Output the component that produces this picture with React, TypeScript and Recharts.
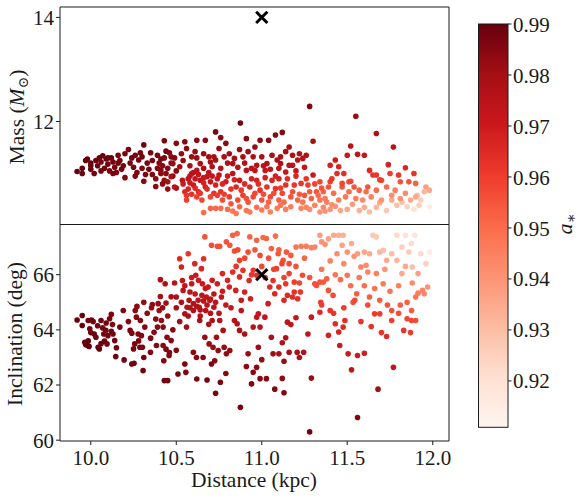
import React from 'react';
import { ScatterChart, Scatter, XAxis, YAxis, ReferenceArea } from 'recharts';

// [distance (kpc), mass (Msun), spin a*]
const massSamples: number[][] = [
  [9.92, 11.04, 0.99], [9.95, 11.0, 0.99], [9.95, 11.1, 0.99], [9.97, 11.25, 0.99], [9.98, 11.28, 0.99],
  [10.0, 11.2, 0.99], [10.0, 11.08, 0.988], [10.02, 11.0, 0.988], [10.04, 11.15, 0.99], [10.05, 11.3, 0.99],
  [10.06, 11.22, 0.988], [10.07, 11.34, 0.99], [10.08, 11.1, 0.988], [10.09, 11.28, 0.99], [10.1, 11.18, 0.988],
  [10.11, 11.05, 0.987], [10.12, 11.3, 0.99], [10.13, 11.22, 0.988], [10.14, 11.12, 0.987], [10.15, 11.02, 0.987],
  [10.16, 11.35, 0.988], [10.17, 11.25, 0.988], [10.18, 11.08, 0.987], [10.2, 10.92, 0.986], [10.2, 11.38, 0.987],
  [10.22, 11.46, 0.988], [10.24, 11.3, 0.988], [10.25, 11.12, 0.987], [10.26, 10.95, 0.986], [10.27, 11.02, 0.987],
  [10.28, 11.26, 0.988], [10.29, 11.4, 0.988], [10.3, 11.32, 0.987], [10.31, 11.55, 0.988], [10.31, 10.85, 0.985],
  [10.33, 11.2, 0.987], [10.35, 11.4, 0.988], [10.36, 10.98, 0.986], [10.38, 10.9, 0.985], [10.39, 11.1, 0.986],
  [10.4, 11.2, 0.986], [10.41, 11.0, 0.985], [10.42, 10.8, 0.984], [10.43, 11.63, 0.987], [10.43, 11.3, 0.986],
  [10.44, 11.43, 0.987], [10.45, 11.1, 0.985], [10.45, 10.7, 0.982], [10.46, 11.4, 0.986], [10.47, 11.2, 0.985],
  [10.48, 10.95, 0.984], [10.49, 11.3, 0.985], [10.5, 11.05, 0.984], [10.5, 10.72, 0.98], [10.38, 10.75, 0.984],
  [10.41, 11.28, 0.987], [10.34, 11.08, 0.987], [10.41, 11.06, 0.984], [10.43, 10.87, 0.982], [10.45, 10.84, 0.98],
  [10.47, 10.94, 0.98], [10.48, 11.19, 0.983], [10.49, 10.74, 0.976],
  [10.0, 11.15, 0.989], [10.03, 11.25, 0.989], [10.06, 11.05, 0.988], [10.1, 11.3, 0.989], [10.13, 11.0, 0.987],
  [10.16, 11.2, 0.988], [10.19, 11.15, 0.987], [10.23, 11.2, 0.987], [10.26, 11.35, 0.988], [10.3, 11.1, 0.986],
  [10.32, 10.98, 0.986], [10.36, 11.25, 0.987], [10.39, 11.35, 0.987], [10.42, 11.15, 0.985], [10.44, 11.0, 0.984],
  [10.47, 11.32, 0.985],
  [10.5, 11.58, 0.985], [10.55, 11.61, 0.985], [10.62, 11.64, 0.984], [10.67, 11.64, 0.984], [10.73, 11.8, 0.986],
  [10.76, 11.69, 0.985], [10.79, 11.58, 0.984], [10.72, 11.32, 0.98], [10.84, 11.29, 0.98], [10.87, 11.46, 0.982],
  [10.875, 11.97, 0.988], [10.91, 11.67, 0.985], [10.96, 11.51, 0.983], [10.99, 11.64, 0.984], [11.04, 11.64, 0.984],
  [11.08, 11.74, 0.985], [11.12, 11.79, 0.985], [11.11, 11.19, 0.978], [11.14, 11.03, 0.972], [11.16, 11.51, 0.98],
  [11.18, 11.35, 0.978], [11.22, 11.38, 0.978], [11.26, 11.35, 0.977], [11.28, 12.29, 0.986], [11.3, 11.62, 0.98],
  [11.3, 10.97, 0.97],
  [10.53, 11.38, 0.983], [10.56, 11.48, 0.984], [10.59, 11.32, 0.982], [10.61, 11.42, 0.983], [10.64, 11.19, 0.98],
  [10.66, 11.38, 0.982], [10.69, 11.32, 0.981], [10.73, 11.26, 0.98], [10.75, 11.48, 0.983], [10.78, 11.32, 0.98],
  [10.81, 11.38, 0.981], [10.83, 11.19, 0.978], [10.89, 11.32, 0.98], [10.92, 11.42, 0.981], [10.95, 11.32, 0.979],
  [10.97, 11.16, 0.977], [11.0, 11.32, 0.979], [11.03, 11.19, 0.977], [11.06, 11.35, 0.979], [11.09, 11.26, 0.978],
  [11.11, 11.32, 0.978], [11.14, 11.42, 0.979], [11.18, 11.16, 0.975], [11.21, 11.26, 0.976], [11.24, 11.29, 0.976],
  [10.54, 11.25, 0.982], [10.58, 11.15, 0.98], [10.62, 11.3, 0.982], [10.66, 11.1, 0.978], [10.7, 11.22, 0.98],
  [10.76, 11.1, 0.977], [10.8, 11.2, 0.978], [10.86, 11.12, 0.976], [10.9, 11.2, 0.977], [10.94, 11.1, 0.975],
  [11.01, 11.15, 0.975], [11.05, 11.08, 0.974], [11.1, 11.1, 0.974], [11.2, 11.05, 0.972], [11.25, 11.12, 0.972],
  [10.52, 11.13, 0.98], [10.536, 10.87, 0.975], [10.55, 10.65, 0.965], [10.56, 10.49, 0.96], [10.57, 10.9, 0.975],
  [10.59, 11.0, 0.975], [10.6, 10.78, 0.97], [10.62, 11.06, 0.975], [10.63, 10.65, 0.965], [10.64, 10.87, 0.972],
  [10.65, 10.49, 0.958], [10.67, 10.74, 0.968], [10.68, 10.94, 0.974], [10.7, 10.84, 0.972], [10.71, 11.13, 0.978],
  [10.72, 10.62, 0.962], [10.73, 10.78, 0.968], [10.75, 10.97, 0.974], [10.76, 10.65, 0.963], [10.77, 10.49, 0.957],
  [10.79, 10.84, 0.97], [10.81, 10.55, 0.96], [10.82, 10.42, 0.955], [10.83, 11.0, 0.975], [10.85, 10.74, 0.966],
  [10.86, 10.49, 0.958], [10.87, 10.87, 0.97], [10.89, 10.58, 0.96], [10.91, 11.06, 0.975], [10.92, 10.45, 0.955],
  [10.93, 10.74, 0.965], [10.95, 10.55, 0.958], [10.96, 11.06, 0.975], [10.97, 10.87, 0.968], [10.99, 10.68, 0.962],
  [11.0, 10.49, 0.955], [11.02, 11.06, 0.972], [11.03, 10.74, 0.963], [11.05, 10.55, 0.957], [11.06, 10.87, 0.967],
  [11.08, 10.71, 0.962], [11.1, 10.49, 0.953], [11.1, 10.9, 0.968], [11.12, 10.62, 0.958], [11.14, 10.78, 0.963],
  [11.16, 11.16, 0.975], [11.17, 10.55, 0.955], [11.19, 10.78, 0.962], [11.21, 10.49, 0.952], [11.23, 10.81, 0.962],
  [11.25, 10.58, 0.955], [11.27, 10.78, 0.96], [11.29, 10.52, 0.952], [11.32, 10.65, 0.955], [11.34, 10.49, 0.948],
  [10.58, 10.95, 0.974], [10.6, 11.02, 0.975], [10.61, 10.9, 0.972], [10.63, 10.98, 0.973], [10.66, 10.92, 0.972],
  [10.69, 11.02, 0.974], [10.57, 10.7, 0.967], [10.59, 10.6, 0.963], [10.62, 10.55, 0.96], [10.68, 10.7, 0.965],
  [10.54, 10.8, 0.97], [10.74, 10.9, 0.971],
  [10.56, 10.58, 0.962], [10.58, 10.82, 0.97], [10.61, 10.72, 0.966], [10.64, 10.62, 0.962], [10.66, 10.82, 0.968],
  [10.7, 10.55, 0.958], [10.71, 10.95, 0.972], [10.74, 10.58, 0.96], [10.77, 10.8, 0.966], [10.78, 10.6, 0.96],
  [10.8, 10.95, 0.97], [10.82, 10.7, 0.963], [10.84, 10.88, 0.968], [10.88, 10.68, 0.961], [10.9, 10.8, 0.965],
  [10.91, 10.52, 0.956], [10.94, 10.9, 0.968], [10.96, 10.62, 0.958], [10.98, 10.8, 0.964], [11.01, 10.6, 0.957],
  [11.02, 10.92, 0.968], [11.04, 10.45, 0.952], [11.07, 10.62, 0.957], [11.08, 10.95, 0.968], [11.11, 10.72, 0.96],
  [11.13, 10.45, 0.95], [11.15, 10.9, 0.965], [11.18, 10.65, 0.956], [11.2, 10.95, 0.966], [11.22, 10.6, 0.954],
  [11.24, 10.45, 0.948], [11.26, 10.9, 0.962], [11.28, 10.65, 0.954], [11.31, 10.8, 0.958], [11.33, 10.58, 0.95],
  [10.66, 10.25, 0.95], [10.7, 10.33, 0.952], [10.73, 10.33, 0.951], [10.76, 10.33, 0.95], [10.8, 10.31, 0.95],
  [10.83, 10.28, 0.948], [10.85, 10.23, 0.947], [10.87, 10.36, 0.951], [10.91, 10.29, 0.948], [10.93, 10.26, 0.947],
  [10.97, 10.35, 0.949], [11.0, 10.3, 0.947], [11.03, 10.36, 0.948], [11.05, 10.26, 0.945], [11.09, 10.33, 0.946],
  [11.11, 10.39, 0.948], [11.14, 10.31, 0.945], [11.17, 10.36, 0.946], [11.23, 10.33, 0.944], [11.26, 10.35, 0.944],
  [11.28, 10.31, 0.942], [11.31, 10.39, 0.944], [11.34, 10.26, 0.94], [11.37, 10.28, 0.94], [11.4, 10.31, 0.939],
  [11.43, 10.37, 0.94], [11.46, 10.29, 0.936], [11.5, 10.31, 0.936], [11.53, 10.41, 0.938], [11.57, 10.29, 0.933],
  [11.6, 10.35, 0.934], [11.63, 10.26, 0.93], [11.67, 10.35, 0.932], [11.69, 10.44, 0.935], [11.73, 10.29, 0.927],
  [11.76, 10.49, 0.935], [11.79, 10.39, 0.93], [11.82, 10.45, 0.93], [11.85, 10.36, 0.925], [11.89, 10.31, 0.92],
  [11.91, 10.58, 0.93], [11.93, 10.49, 0.925], [11.96, 10.74, 0.938], [11.98, 10.68, 0.935], [11.98, 10.36, 0.915],
  [11.95, 10.65, 0.932],
  [11.86, 10.84, 0.955], [11.89, 11.0, 0.963], [11.84, 11.11, 0.966], [11.81, 10.84, 0.955], [11.8, 10.97, 0.962],
  [11.77, 11.51, 0.975], [11.74, 11.17, 0.968], [11.7, 10.87, 0.958], [11.67, 11.77, 0.978], [11.67, 10.97, 0.962],
  [11.63, 11.06, 0.965], [11.61, 10.65, 0.95], [11.6, 11.35, 0.972], [11.56, 11.37, 0.973], [11.55, 12.1, 0.982],
  [11.52, 11.53, 0.975], [11.51, 10.84, 0.957], [11.5, 11.35, 0.972], [11.48, 11.0, 0.964], [11.45, 11.13, 0.967],
  [11.43, 11.26, 0.97], [11.4, 11.16, 0.968], [11.39, 10.74, 0.955], [11.36, 10.65, 0.952], [11.34, 10.84, 0.958],
  [11.37, 10.52, 0.947], [11.4, 10.84, 0.96], [11.42, 10.62, 0.95], [11.45, 10.49, 0.945], [11.47, 10.74, 0.955],
  [11.49, 10.55, 0.947], [11.51, 10.65, 0.95], [11.55, 10.52, 0.945], [11.57, 10.68, 0.952], [11.59, 10.49, 0.943],
  [11.62, 10.74, 0.955], [11.64, 10.55, 0.945], [11.67, 10.68, 0.95], [11.7, 10.49, 0.94], [11.73, 10.74, 0.95],
  [11.76, 10.58, 0.942], [11.78, 10.68, 0.945], [11.81, 10.52, 0.94], [11.84, 10.62, 0.942], [11.87, 10.49, 0.935],
  [11.9, 10.55, 0.935], [11.92, 10.39, 0.925],
  [11.41, 10.9, 0.962], [11.44, 11.0, 0.964], [11.47, 10.81, 0.958], [11.52, 10.85, 0.958], [11.54, 10.74, 0.955],
  [11.65, 10.97, 0.962], [11.69, 10.88, 0.96], [11.75, 11.0, 0.96], [11.9, 10.81, 0.952],
  [11.35, 10.72, 0.955], [11.38, 10.45, 0.945], [11.41, 10.4, 0.942], [11.36, 10.35, 0.943],
];

// [distance (kpc), inclination (deg), spin a*]
const inclSamples: number[][] = [
  [9.92, 64.36, 0.99], [9.95, 64.52, 0.99], [9.95, 64.16, 0.99], [9.965, 63.55, 0.99], [9.97, 63.47, 0.99],
  [9.98, 63.43, 0.99], [9.985, 63.6, 0.99], [9.99, 63.4, 0.99], [9.985, 64.34, 0.988], [9.994, 64.04, 0.988],
  [10.004, 64.36, 0.988], [10.014, 64.3, 0.988], [10.02, 63.85, 0.989], [10.03, 63.73, 0.989], [10.043, 63.37, 0.99],
  [10.05, 63.31, 0.99], [10.06, 64.34, 0.988], [10.07, 64.07, 0.988], [10.076, 63.85, 0.988], [10.08, 63.59, 0.989],
  [10.088, 63.98, 0.988], [10.095, 63.49, 0.989], [10.1, 63.79, 0.988], [10.11, 64.4, 0.987], [10.12, 64.56, 0.987],
  [10.127, 64.19, 0.987], [10.13, 63.85, 0.988], [10.14, 63.61, 0.988], [10.146, 63.03, 0.989], [10.17, 64.1, 0.987],
  [10.19, 64.7, 0.986], [10.195, 62.91, 0.988],
  [10.0, 63.9, 0.989], [10.04, 64.15, 0.988], [10.06, 63.5, 0.989], [10.09, 64.25, 0.988], [10.12, 63.95, 0.988],
  [10.15, 63.35, 0.988], [10.22, 64.3, 0.986], [10.28, 63.6, 0.987], [10.33, 64.6, 0.984], [10.35, 63.7, 0.986],
  [10.39, 64.1, 0.985], [10.42, 64.8, 0.982], [10.44, 63.3, 0.986], [10.48, 64.0, 0.984],
  [10.23, 63.98, 0.987], [10.24, 62.76, 0.988], [10.24, 63.88, 0.987], [10.25, 63.31, 0.987], [10.253, 62.79, 0.988],
  [10.257, 63.49, 0.987], [10.26, 64.7, 0.984], [10.267, 64.46, 0.985], [10.27, 64.85, 0.984], [10.277, 63.85, 0.986],
  [10.287, 63.37, 0.987], [10.29, 64.34, 0.985], [10.296, 63.79, 0.986], [10.302, 63.37, 0.987], [10.306, 62.52, 0.988],
  [10.31, 65.0, 0.983], [10.31, 63.0, 0.987], [10.316, 64.1, 0.985], [10.349, 63.19, 0.986], [10.355, 64.8, 0.983],
  [10.36, 64.92, 0.983], [10.37, 63.91, 0.985], [10.38, 64.39, 0.984], [10.384, 63.43, 0.986], [10.394, 64.95, 0.982],
  [10.4, 64.7, 0.982], [10.407, 65.82, 0.978], [10.407, 65.21, 0.98], [10.413, 64.34, 0.983], [10.423, 64.1, 0.984],
  [10.423, 63.43, 0.985], [10.427, 62.88, 0.986], [10.43, 62.16, 0.988], [10.435, 65.67, 0.978], [10.44, 64.97, 0.981],
  [10.446, 63.73, 0.984], [10.45, 62.16, 0.988], [10.458, 63.07, 0.986], [10.46, 63.18, 0.986], [10.47, 63.61, 0.985],
  [10.49, 65.7, 0.976], [10.5, 63.26, 0.985], [10.5, 65.19, 0.978],
  [10.51, 62.4, 0.987], [10.52, 66.58, 0.965], [10.53, 66.28, 0.968], [10.536, 65.79, 0.972], [10.54, 65.43, 0.974],
  [10.55, 64.58, 0.978], [10.55, 62.76, 0.986], [10.556, 62.46, 0.986], [10.56, 64.1, 0.98], [10.563, 64.82, 0.977],
  [10.57, 66.76, 0.962], [10.575, 65.07, 0.976], [10.58, 65.37, 0.974], [10.59, 65.67, 0.972], [10.6, 64.7, 0.977],
  [10.6, 63.19, 0.984], [10.608, 66.4, 0.966], [10.614, 65.98, 0.97], [10.618, 63.0, 0.985], [10.62, 62.22, 0.987],
  [10.628, 65.07, 0.975], [10.634, 64.82, 0.976], [10.637, 64.34, 0.978], [10.647, 66.22, 0.967], [10.653, 65.67, 0.971],
  [10.657, 63.0, 0.985], [10.66, 66.58, 0.964], [10.667, 63.73, 0.982], [10.672, 64.7, 0.976], [10.676, 65.19, 0.974],
  [10.68, 62.18, 0.987], [10.686, 65.55, 0.971], [10.692, 63.49, 0.982], [10.696, 65.07, 0.974], [10.706, 62.76, 0.986],
  [10.71, 64.34, 0.978], [10.715, 63.37, 0.982], [10.72, 64.82, 0.975], [10.725, 62.88, 0.985], [10.73, 61.7, 0.988],
  [10.735, 63.73, 0.981], [10.74, 65.67, 0.969], [10.745, 63.25, 0.983], [10.754, 64.34, 0.977], [10.758, 62.1, 0.987],
  [10.764, 65.19, 0.972], [10.77, 66.04, 0.966], [10.774, 63.98, 0.979], [10.78, 63.37, 0.982], [10.79, 62.42, 0.985],
  [10.793, 63.13, 0.983],
  [10.6, 64.95, 0.976], [10.62, 64.85, 0.976], [10.64, 64.72, 0.976], [10.66, 65.05, 0.975], [10.68, 64.9, 0.975],
  [10.7, 65.12, 0.974], [10.58, 64.8, 0.977], [10.65, 65.25, 0.974], [10.7, 64.6, 0.976], [10.72, 65.3, 0.973],
  [10.45, 64.5, 0.982], [10.47, 65.2, 0.979], [10.5, 64.8, 0.98], [10.52, 64.3, 0.981], [10.53, 65.0, 0.978],
  [10.55, 65.6, 0.973], [10.57, 64.5, 0.978], [10.59, 65.9, 0.97], [10.61, 65.3, 0.974], [10.63, 65.8, 0.97],
  [10.64, 64.5, 0.977], [10.67, 65.5, 0.972], [10.69, 64.2, 0.978], [10.71, 65.8, 0.969], [10.73, 65.0, 0.973],
  [10.75, 64.6, 0.975], [10.77, 65.4, 0.97], [10.79, 64.9, 0.972], [10.8, 65.8, 0.967], [10.82, 64.8, 0.972],
  [10.667, 67.37, 0.955], [10.706, 67.07, 0.957], [10.74, 67.03, 0.956], [10.754, 67.03, 0.956], [10.793, 67.19, 0.955],
  [10.813, 67.07, 0.955], [10.83, 67.43, 0.953], [10.856, 67.49, 0.952], [10.84, 66.86, 0.957], [10.86, 66.9, 0.957],
  [10.87, 66.52, 0.96], [10.89, 66.16, 0.963], [10.92, 66.82, 0.957], [10.93, 67.37, 0.952], [10.97, 67.25, 0.952],
  [10.99, 66.7, 0.957], [11.008, 67.35, 0.951], [11.027, 67.31, 0.951], [11.056, 66.95, 0.953], [11.08, 67.4, 0.95],
  [11.096, 66.76, 0.955], [11.125, 66.52, 0.956], [11.144, 66.82, 0.954], [11.16, 66.4, 0.957], [11.2, 67.0, 0.948],
  [11.23, 67.03, 0.947], [11.26, 67.03, 0.946], [11.29, 66.98, 0.945], [11.31, 67.0, 0.944],
  [10.85, 66.3, 0.962], [10.9, 66.6, 0.958], [10.94, 66.0, 0.962], [10.96, 66.9, 0.955], [11.0, 66.3, 0.958],
  [11.02, 65.9, 0.961], [11.04, 66.6, 0.956], [11.07, 66.2, 0.958], [11.1, 66.9, 0.953], [11.13, 65.9, 0.959],
  [11.17, 66.7, 0.954], [11.2, 66.3, 0.955], [11.22, 65.7, 0.958], [11.25, 66.6, 0.951], [11.28, 65.9, 0.955],
  [10.83, 66.1, 0.964], [10.87, 65.92, 0.965], [10.81, 65.55, 0.968], [10.848, 65.43, 0.968], [10.88, 65.07, 0.97],
  [10.9, 65.37, 0.968], [10.926, 65.79, 0.965], [10.934, 65.13, 0.969], [10.95, 66.16, 0.962], [10.97, 65.98, 0.963],
  [10.98, 64.58, 0.972], [10.99, 64.1, 0.975], [10.95, 64.1, 0.976], [10.97, 64.46, 0.973], [11.018, 64.46, 0.972],
  [11.037, 64.95, 0.969], [11.047, 65.55, 0.965], [11.066, 65.79, 0.963], [11.076, 65.31, 0.966], [11.086, 66.22, 0.96],
  [11.1, 65.55, 0.964], [11.118, 66.4, 0.958], [11.13, 65.07, 0.966], [11.14, 65.67, 0.962], [11.15, 65.25, 0.965],
  [11.18, 65.19, 0.964], [11.19, 65.37, 0.963], [11.21, 65.13, 0.964], [11.226, 65.37, 0.962], [11.238, 65.98, 0.957],
  [11.19, 65.73, 0.96], [11.16, 66.04, 0.959],
  [10.813, 63.25, 0.983], [10.84, 64.34, 0.976], [10.856, 64.22, 0.977], [10.87, 63.98, 0.978], [10.88, 64.7, 0.974],
  [10.9, 63.85, 0.978], [10.92, 63.13, 0.982], [10.91, 62.67, 0.984], [10.94, 62.04, 0.986], [10.95, 62.46, 0.985],
  [10.97, 62.64, 0.984], [10.98, 63.37, 0.981], [10.99, 62.23, 0.985], [11.0, 62.92, 0.983], [11.027, 62.23, 0.985],
  [11.056, 63.73, 0.978], [11.066, 63.13, 0.981], [11.076, 61.85, 0.986], [11.1, 63.13, 0.98], [11.12, 63.53, 0.978],
  [11.12, 62.24, 0.984], [11.13, 61.72, 0.986], [11.13, 62.86, 0.982], [11.14, 63.71, 0.977], [11.15, 64.28, 0.974],
  [11.16, 63.19, 0.979], [11.17, 64.19, 0.974], [11.2, 64.44, 0.972], [11.207, 63.19, 0.978], [11.22, 63.0, 0.979],
  [11.245, 63.19, 0.977], [11.27, 63.85, 0.974], [11.28, 60.3, 0.988], [11.29, 64.46, 0.97], [11.29, 62.25, 0.982],
  [10.875, 61.19, 0.988],
  [11.34, 67.43, 0.938], [11.35, 67.19, 0.94], [11.37, 67.1, 0.94], [11.39, 67.3, 0.937], [11.42, 67.43, 0.935],
  [11.44, 66.76, 0.942], [11.45, 67.43, 0.934], [11.47, 67.07, 0.937], [11.476, 67.43, 0.933], [11.5, 66.82, 0.94],
  [11.525, 67.13, 0.935], [11.54, 66.67, 0.94], [11.56, 66.76, 0.938], [11.58, 66.28, 0.944], [11.6, 66.82, 0.936],
  [11.63, 66.76, 0.935], [11.65, 67.43, 0.927], [11.67, 67.37, 0.927], [11.69, 66.82, 0.932], [11.71, 66.88, 0.93],
  [11.73, 66.52, 0.935], [11.76, 66.76, 0.93], [11.79, 67.43, 0.922], [11.82, 67.0, 0.925], [11.84, 67.43, 0.92],
  [11.86, 66.82, 0.926], [11.875, 67.13, 0.922], [11.895, 67.43, 0.918], [11.914, 66.04, 0.937], [11.93, 66.76, 0.922],
  [11.96, 66.4, 0.925], [11.98, 66.82, 0.915], [11.97, 65.55, 0.94], [11.95, 65.31, 0.943], [11.88, 66.28, 0.93],
  [11.82, 66.04, 0.935], [11.79, 66.52, 0.932], [11.61, 66.34, 0.942],
  [11.35, 66.2, 0.948], [11.4, 66.5, 0.944], [11.43, 66.0, 0.948], [11.48, 66.4, 0.943], [11.52, 65.6, 0.95],
  [11.57, 65.9, 0.947], [11.62, 66.1, 0.944], [11.66, 65.5, 0.949], [11.72, 66.2, 0.94], [11.75, 65.4, 0.948],
  [11.8, 65.6, 0.945], [11.84, 66.3, 0.935], [11.88, 65.7, 0.942],
  [11.34, 65.73, 0.955], [11.32, 65.61, 0.956], [11.31, 65.67, 0.956], [11.36, 65.73, 0.954], [11.38, 65.85, 0.953],
  [11.39, 65.43, 0.956], [11.417, 65.25, 0.957], [11.46, 65.82, 0.95], [11.5, 65.98, 0.948], [11.534, 65.0, 0.956],
  [11.555, 65.31, 0.953], [11.6, 65.6, 0.95], [11.63, 65.19, 0.953], [11.67, 66.04, 0.945], [11.69, 65.07, 0.953],
  [11.71, 65.67, 0.947], [11.735, 64.9, 0.955], [11.76, 64.7, 0.956], [11.81, 64.9, 0.953], [11.85, 65.0, 0.952],
  [11.876, 64.7, 0.954], [11.9, 65.19, 0.948], [11.914, 65.33, 0.946], [11.94, 65.43, 0.944],
  [11.34, 64.64, 0.965], [11.39, 63.8, 0.968], [11.4, 64.7, 0.963], [11.43, 64.22, 0.965], [11.45, 63.92, 0.967],
  [11.456, 63.43, 0.97], [11.476, 64.1, 0.965], [11.486, 64.34, 0.964], [11.505, 63.13, 0.97], [11.525, 62.55, 0.973],
  [11.544, 65.07, 0.958], [11.56, 63.07, 0.97], [11.56, 60.82, 0.985], [11.6, 63.15, 0.969], [11.64, 64.12, 0.963],
  [11.66, 64.58, 0.96], [11.68, 61.85, 0.98], [11.69, 64.58, 0.96], [11.73, 63.76, 0.965], [11.76, 64.34, 0.96],
  [11.77, 62.64, 0.972], [11.83, 63.98, 0.962], [11.85, 64.4, 0.958], [11.876, 64.34, 0.958], [11.9, 64.34, 0.957],
  [11.345, 65.0, 0.96], [11.35, 64.9, 0.96],
  [11.42, 64.6, 0.962], [11.48, 64.8, 0.96], [11.58, 64.3, 0.962], [11.62, 64.9, 0.957], [11.7, 63.9, 0.963],
  [11.8, 64.6, 0.957], [11.87, 63.9, 0.96],
];

// reference values marked with a cross
const refDistance = 11.0;
const refMass = 14.0;
const refIncl = 66.0;

const distanceTicks = [10.0, 10.5, 11.0, 11.5, 12.0];
const massTicks = [12, 14];
const inclTicks = [60, 62, 64, 66];
const spinTicks = [0.92, 0.93, 0.94, 0.95, 0.96, 0.97, 0.98, 0.99];

const X_DOMAIN: [number, number] = [9.82, 12.095];
const MASS_DOMAIN: [number, number] = [10.02, 14.2];
const INCL_DOMAIN: [number, number] = [59.97, 67.82];
const SPIN_MIN = 0.9109;
const SPIN_MAX = 0.99;

const FONT = '"Liberation Serif", "DejaVu Serif", serif';
const INK = '#1a1a1a';

// matplotlib "Reds"
const REDS = ['#fff5f0', '#fee0d2', '#fcbba1', '#fc9272', '#fb6a4a', '#ef3b2c', '#cb181d', '#a50f15', '#67000d'];

function reds(t: number) {
  const c = Math.max(0, Math.min(1, t)) * (REDS.length - 1);
  const i = Math.min(REDS.length - 2, Math.floor(c));
  const f = c - i;
  const a = REDS[i], b = REDS[i + 1];
  const ch = (s: string, k: number) => parseInt(s.slice(1 + 2 * k, 3 + 2 * k), 16);
  const mix = (k: number) => Math.round(ch(a, k) + (ch(b, k) - ch(a, k)) * f);
  return `rgb(${mix(0)},${mix(1)},${mix(2)})`;
}

const spinColor = (a: number) => reds((a - SPIN_MIN) / (SPIN_MAX - SPIN_MIN));

const massData = massSamples.map(([d, v, a]) => ({ d, v, a }));
const inclData = inclSamples.map(([d, v, a]) => ({ d, v, a }));

const Dot = (p: any) => <circle cx={p.cx} cy={p.cy} r={2.8} fill={spinColor(p.payload.a)} />;

const Cross = (p: any) => {
  const h = 5.6;
  return (
    <g stroke="#000" strokeWidth={3}>
      <line x1={p.cx - h} y1={p.cy - h} x2={p.cx + h} y2={p.cy + h} />
      <line x1={p.cx - h} y1={p.cy + h} x2={p.cx + h} y2={p.cy - h} />
    </g>
  );
};

const tickStyle = { fontSize: 21, fill: INK, fontFamily: FONT };

function Overlay() {
  const top = 24, bottom = 427.3, left = 478.5, right = 508;
  const y = (v: number) => bottom - ((v - SPIN_MIN) / (SPIN_MAX - SPIN_MIN)) * (bottom - top);
  // darkest at the top of the bar
  const stops = [...REDS].reverse().map((c, i) => ({ off: i / (REDS.length - 1), c }));
  return (
    <svg width={580} height={501} style={{ position: 'absolute', left: 0, top: 0, pointerEvents: 'none' }}>
      <defs>
        <linearGradient id="redsGrad" x1="0" y1="0" x2="0" y2="1">
          {stops.map((s) => (
            <stop key={s.off} offset={s.off} stopColor={s.c} />
          ))}
        </linearGradient>
      </defs>
      <rect x={left} y={top} width={right - left} height={bottom - top} fill="url(#redsGrad)" stroke={INK} strokeWidth={1} />
      {spinTicks.map((t) => (
        <g key={t}>
          <line x1={right} x2={right + 3.5} y1={y(t)} y2={y(t)} stroke={INK} />
          <text x={right + 5} y={y(t)} dy="0.36em" fontSize={21} fill={INK} fontFamily={FONT}>
            {t.toFixed(2)}
          </text>
        </g>
      ))}
      <text transform="translate(572,224) rotate(-90)" textAnchor="middle" fontSize={22} fill={INK} fontFamily={FONT}>
        <tspan fontStyle="italic">a</tspan>
        <tspan fontSize={15} dy={4}>∗</tspan>
      </text>
      <text transform="translate(24,117) rotate(-90)" textAnchor="middle" fontSize={21.5} fill={INK} fontFamily={FONT}>
        Mass (<tspan fontStyle="italic">M</tspan>
        <tspan fontSize={14} dy={4}>⊙</tspan>
        <tspan dy={-4}>)</tspan>
      </text>
      <text transform="translate(22,334) rotate(-90)" textAnchor="middle" fontSize={21.5} fill={INK} fontFamily={FONT}>
        Inclination (deg)
      </text>
      <text x={254} y={487} textAnchor="middle" fontSize={21.5} fill={INK} fontFamily={FONT}>
        Distance (kpc)
      </text>
    </svg>
  );
}

export default function App() {
  return (
    <div style={{ position: 'absolute', left: 0, top: 0, width: 580, height: 501, background: '#fff' }}>
      <div style={{ position: 'absolute', left: 0, top: 0 }}>
        <ScatterChart width={460} height={225} margin={{ top: 7, right: 11, bottom: 0.5, left: 0 }}>
          <XAxis type="number" dataKey="d" domain={X_DOMAIN} ticks={distanceTicks} allowDataOverflow hide />
          <YAxis
            type="number"
            dataKey="v"
            domain={MASS_DOMAIN}
            ticks={massTicks}
            allowDataOverflow
            width={60}
            axisLine={false}
            tickLine={{ stroke: INK }}
            tickSize={4}
            tick={tickStyle}
          />
          <ReferenceArea x1={X_DOMAIN[0]} x2={X_DOMAIN[1]} y1={MASS_DOMAIN[0]} y2={MASS_DOMAIN[1]} fill="none" stroke={INK} strokeWidth={1} fillOpacity={0} />
          <Scatter data={massData} shape={Dot} isAnimationActive={false} />
          <Scatter data={[{ d: refDistance, v: refMass }]} shape={Cross} isAnimationActive={false} />
        </ScatterChart>
      </div>
      <div style={{ position: 'absolute', left: 0, top: 224 }}>
        <ScatterChart width={460} height={277} margin={{ top: 0.5, right: 11, bottom: 0, left: 0 }}>
          <XAxis
            type="number"
            dataKey="d"
            domain={X_DOMAIN}
            ticks={distanceTicks}
            allowDataOverflow
            height={60}
            axisLine={false}
            tickLine={{ stroke: INK }}
            tickSize={4}
            tickMargin={5}
            tick={tickStyle}
            tickFormatter={(v: number) => v.toFixed(1)}
          />
          <YAxis
            type="number"
            dataKey="v"
            domain={INCL_DOMAIN}
            ticks={inclTicks}
            allowDataOverflow
            width={60}
            axisLine={false}
            tickLine={{ stroke: INK }}
            tickSize={4}
            tick={tickStyle}
          />
          <ReferenceArea x1={X_DOMAIN[0]} x2={X_DOMAIN[1]} y1={INCL_DOMAIN[0]} y2={INCL_DOMAIN[1]} fill="none" stroke={INK} strokeWidth={1} fillOpacity={0} />
          <Scatter data={inclData} shape={Dot} isAnimationActive={false} />
          <Scatter data={[{ d: refDistance, v: refIncl }]} shape={Cross} isAnimationActive={false} />
        </ScatterChart>
      </div>
      <Overlay />
    </div>
  );
}
